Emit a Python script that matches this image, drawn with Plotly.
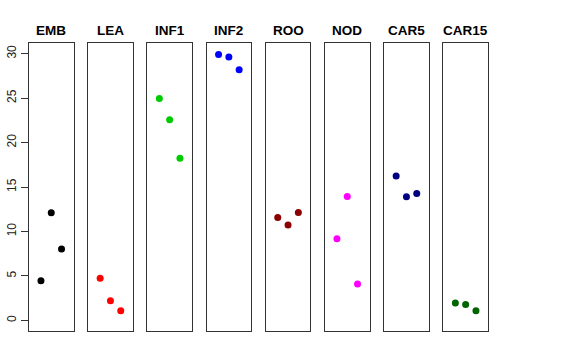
import plotly.graph_objects as go

groups = ["EMB", "LEA", "INF1", "INF2", "ROO", "NOD", "CAR5", "CAR15"]
colors = ["#000000", "#FF0000", "#00CD00", "#0000FF", "#8B0000", "#FF00FF", "#000080", "#006400"]
x_pos = [1, 2, 3]
values = {
    "EMB": [4.44, 12.1, 8.03],
    "LEA": [4.74, 2.2, 1.08],
    "INF1": [24.96, 22.57, 18.23],
    "INF2": [29.9, 29.63, 28.2],
    "ROO": [11.58, 10.72, 12.14],
    "NOD": [9.19, 13.94, 4.1],
    "CAR5": [16.25, 13.9, 14.27],
    "CAR15": [1.94, 1.79, 1.08],
}
y_ticks = [0, 5, 10, 15, 20, 25, 30]

W, H = 576, 360
left0, step, pw = 29, 59.2, 44.5
top, bottom = 43, 331

fig = go.Figure()
layout = dict(
    width=W, height=H, margin=dict(l=0, r=0, t=0, b=0, autoexpand=False),
    paper_bgcolor="white", plot_bgcolor="white", showlegend=False,
    font=dict(family="Liberation Sans, Arial, sans-serif", size=12, color="black"),
)
annotations = []
for i, g in enumerate(groups):
    sfx = "" if i == 0 else str(i + 1)
    x0 = left0 + i * step
    fig.add_trace(go.Scatter(
        x=x_pos, y=values[g], mode="markers",
        marker=dict(color=colors[i], size=7, line=dict(width=0)),
        xaxis="x" + sfx, yaxis="y" + sfx, hoverinfo="skip"))
    layout["xaxis" + sfx] = dict(
        domain=[x0 / W, (x0 + pw) / W], range=[-0.16, 4.16],
        showgrid=False, zeroline=False, showticklabels=False, ticks="",
        showline=True, mirror=True, linecolor="#333333", linewidth=1,
        anchor="y" + sfx, fixedrange=True, automargin=False)
    ydict = dict(
        domain=[1 - bottom / H, 1 - top / H], range=[-1.2, 31.2],
        showgrid=False, zeroline=False,
        showline=True, mirror=True, linecolor="#333333", linewidth=1,
        anchor="x" + sfx, fixedrange=True, automargin=False)
    if i == 0:
        ydict.update(tickmode="array", tickvals=y_ticks, ticktext=[str(v) for v in y_ticks],
                     ticks="outside", ticklen=7, tickcolor="#333333", tickangle=-90,
                     tickfont=dict(size=12, color="#222222"))
    else:
        ydict.update(showticklabels=False, ticks="")
    layout["yaxis" + sfx] = ydict
    annotations.append(dict(
        text="<b>" + g + "</b>", x=(x0 + pw / 2) / W, y=1 - 30 / H,
        xref="paper", yref="paper", xanchor="center", yanchor="middle",
        showarrow=False, font=dict(size=13.5, color="black")))
layout["annotations"] = annotations
fig.update_layout(**layout)
fig.write_html("out.html", config={"displayModeBar": False},
               post_script="document.body.style.margin='0';document.body.style.padding='0';")
